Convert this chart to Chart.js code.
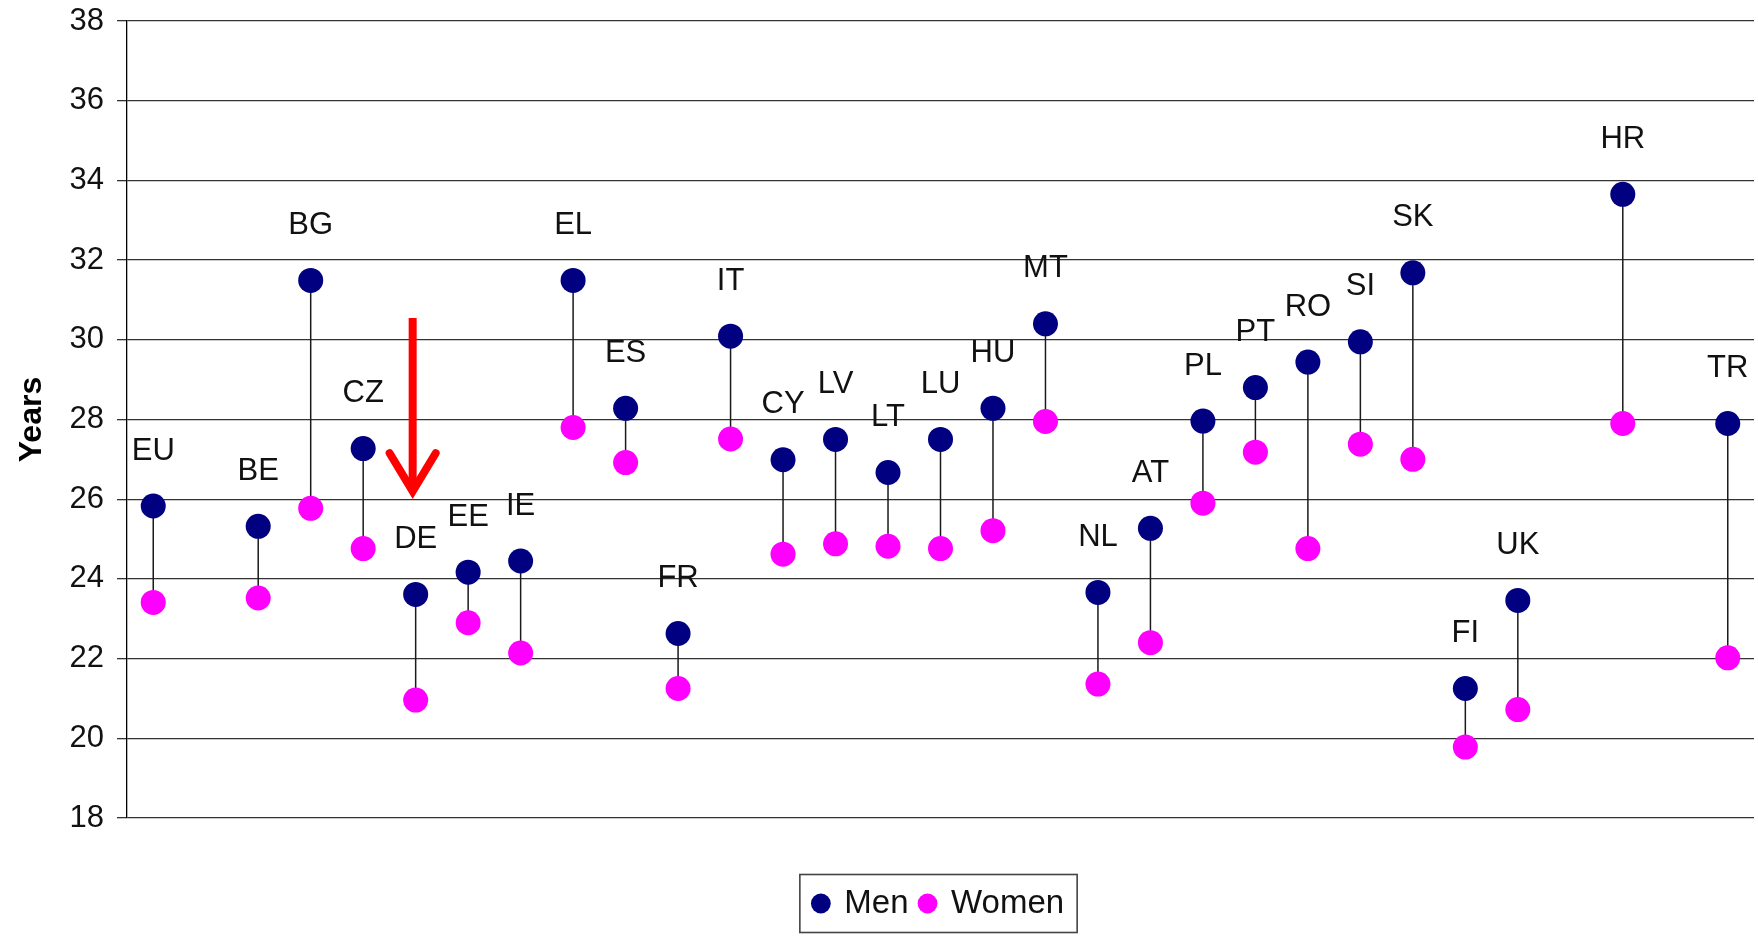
<!DOCTYPE html>
<html>
<head>
<meta charset="utf-8">
<style>
html,body{margin:0;padding:0;background:#ffffff;}
#wrap{width:1758px;height:937px;position:relative;}
</style>
<script src="https://cdn.jsdelivr.net/npm/chart.js@4/dist/chart.umd.min.js"></script>
</head>
<body>
<div id="wrap"><canvas id="c" width="1758" height="937"></canvas></div>
<script>
// Categories (empty strings are gaps in the original chart)
const categories = ['EU','','BE','BG','CZ','DE','EE','IE','EL','ES','FR','IT','CY','LV','LT','LU','HU','MT','NL','AT','PL','PT','RO','SI','SK','FI','UK','','HR','','TR'];
// Mean age (years) at leaving the parental household
const men   = [25.83,null,25.32,31.49,27.27,23.61,24.17,24.45,31.49,28.28,22.63,30.09,26.99,27.50,26.67,27.50,28.28,30.40,23.66,25.27,27.96,28.80,29.44,29.95,31.68,21.25,23.46,null,33.65,null,27.90];
const women = [23.41,null,23.52,25.77,24.76,20.96,22.90,22.14,27.80,26.92,21.25,27.51,24.62,24.88,24.82,24.76,25.21,27.95,21.36,22.40,25.90,27.18,24.76,27.38,27.00,19.78,20.72,null,27.90,null,22.02];
const seriesNames = ['Men','Women'];
const yTicks = [18,20,22,24,26,28,30,32,34,36,38];
const yTitle = 'Years';
// Red highlight arrow (pointing at DE), in axis values
const arrowCategory = 'DE';
const arrowFrom = 30.55;
const arrowTo = 26.1;

const FONT = '"Liberation Sans", Arial, sans-serif';
const NAVY = '#000080';
const MAGENTA = '#FF00FF';
const LEGEND_SHIFT = 62;

const annotate = {
  id: 'annotate',
  beforeDraw(chart) {
    const lg = chart.legend;
    if (!lg || lg._shifted) return;
    lg.left += LEGEND_SHIFT;
    lg.right += LEGEND_SHIFT;
    (lg.legendHitBoxes || []).forEach(h => { h.left += LEGEND_SHIFT; });
    lg._shifted = true;
  },
  beforeDatasetsDraw(chart) {
    const ctx = chart.ctx;
    const m = chart.getDatasetMeta(0).data;
    const w = chart.getDatasetMeta(1).data;
    ctx.save();
    ctx.strokeStyle = '#1a1a1a';
    ctx.lineWidth = 1.5;
    for (let i = 0; i < categories.length; i++) {
      if (men[i] == null || women[i] == null) continue;
      ctx.beginPath();
      ctx.moveTo(m[i].x, m[i].y);
      ctx.lineTo(w[i].x, w[i].y);
      ctx.stroke();
    }
    ctx.restore();
  },
  afterDatasetsDraw(chart) {
    const ctx = chart.ctx;
    const m = chart.getDatasetMeta(0).data;
    ctx.save();
    ctx.fillStyle = '#111111';
    ctx.font = '31px ' + FONT;
    ctx.textAlign = 'center';
    ctx.textBaseline = 'middle';
    for (let i = 0; i < categories.length; i++) {
      if (!categories[i] || men[i] == null) continue;
      ctx.fillText(categories[i], m[i].x, m[i].y - 55);
    }
    // arrow
    const xs = chart.scales.x, ys = chart.scales.y;
    const ax = xs.getPixelForValue(categories.indexOf(arrowCategory)) - 3;
    const yTop = ys.getPixelForValue(arrowFrom);
    const yTip = ys.getPixelForValue(arrowTo);
    ctx.strokeStyle = '#FF0000';
    ctx.lineWidth = 8;
    ctx.lineCap = 'butt';
    ctx.beginPath();
    ctx.moveTo(ax, yTop);
    ctx.lineTo(ax, yTip - 6);
    ctx.stroke();
    ctx.lineWidth = 8;
    ctx.lineJoin = 'miter';
    ctx.lineCap = 'round';
    ctx.beginPath();
    ctx.moveTo(ax - 23, yTip - 42);
    ctx.lineTo(ax, yTip - 4);
    ctx.lineTo(ax + 23, yTip - 42);
    ctx.stroke();
    ctx.restore();
  },
  afterDraw(chart) {
    const hb = chart.legend.legendHitBoxes;
    if (!hb || !hb.length) return;
    const ctx = chart.ctx;
    const l = Math.min(...hb.map(h => h.left)) - 14;
    const r = Math.max(...hb.map(h => h.left + h.width)) + 13;
    const cy = hb[0].top + hb[0].height / 2;
    ctx.save();
    ctx.strokeStyle = '#444444';
    ctx.lineWidth = 1.6;
    ctx.strokeRect(l, cy - 29, r - l, 58);
    ctx.restore();
  }
};

new Chart(document.getElementById('c'), {
  type: 'line',
  data: {
    labels: categories,
    datasets: [
      { label: seriesNames[0], data: men, showLine: false, pointRadius: 12.5, pointHoverRadius: 12.5,
        pointStyle: 'circle', backgroundColor: NAVY, borderColor: NAVY, pointBorderWidth: 0 },
      { label: seriesNames[1], data: women, showLine: false, pointRadius: 12.5, pointHoverRadius: 12.5,
        pointStyle: 'circle', backgroundColor: MAGENTA, borderColor: MAGENTA, pointBorderWidth: 0 }
    ]
  },
  options: {
    responsive: false,
    animation: false,
    devicePixelRatio: 1,
    layout: { autoPadding: false, padding: { left: 0, right: 4, top: 21, bottom: 7 } },
    plugins: {
      tooltip: { enabled: false },
      legend: {
        position: 'bottom',
        labels: {
          usePointStyle: true,
          pointStyle: 'circle',
          boxWidth: 14,
          boxHeight: 14,
          padding: 12,
          color: '#111111',
          font: { family: FONT, size: 33 }
        }
      }
    },
    scales: {
      x: {
        type: 'category',
        offset: true,
        grid: { display: false, drawTicks: false },
        border: { display: false },
        ticks: { display: false },
        afterFit: s => { s.height = 57; }
      },
      y: {
        min: yTicks[0],
        max: yTicks[yTicks.length - 1],
        afterBuildTicks: s => { s.ticks = yTicks.map(v => ({ value: v })); },
        afterFit: s => { s.width = 127; s.paddingTop = 18; },
        grid: { color: '#333333', lineWidth: 1.3, tickLength: 10, drawTicks: true },
        border: { display: true, color: '#000000', width: 1.3 },
        ticks: { color: '#111111', padding: 13, font: { family: FONT, size: 31 } },
        title: { display: true, text: yTitle, color: '#000000', padding: { top: 13, bottom: 0 },
                 font: { family: FONT, size: 32, weight: 'bold' } }
      }
    }
  },
  plugins: [annotate]
});
</script>
</body>
</html>
